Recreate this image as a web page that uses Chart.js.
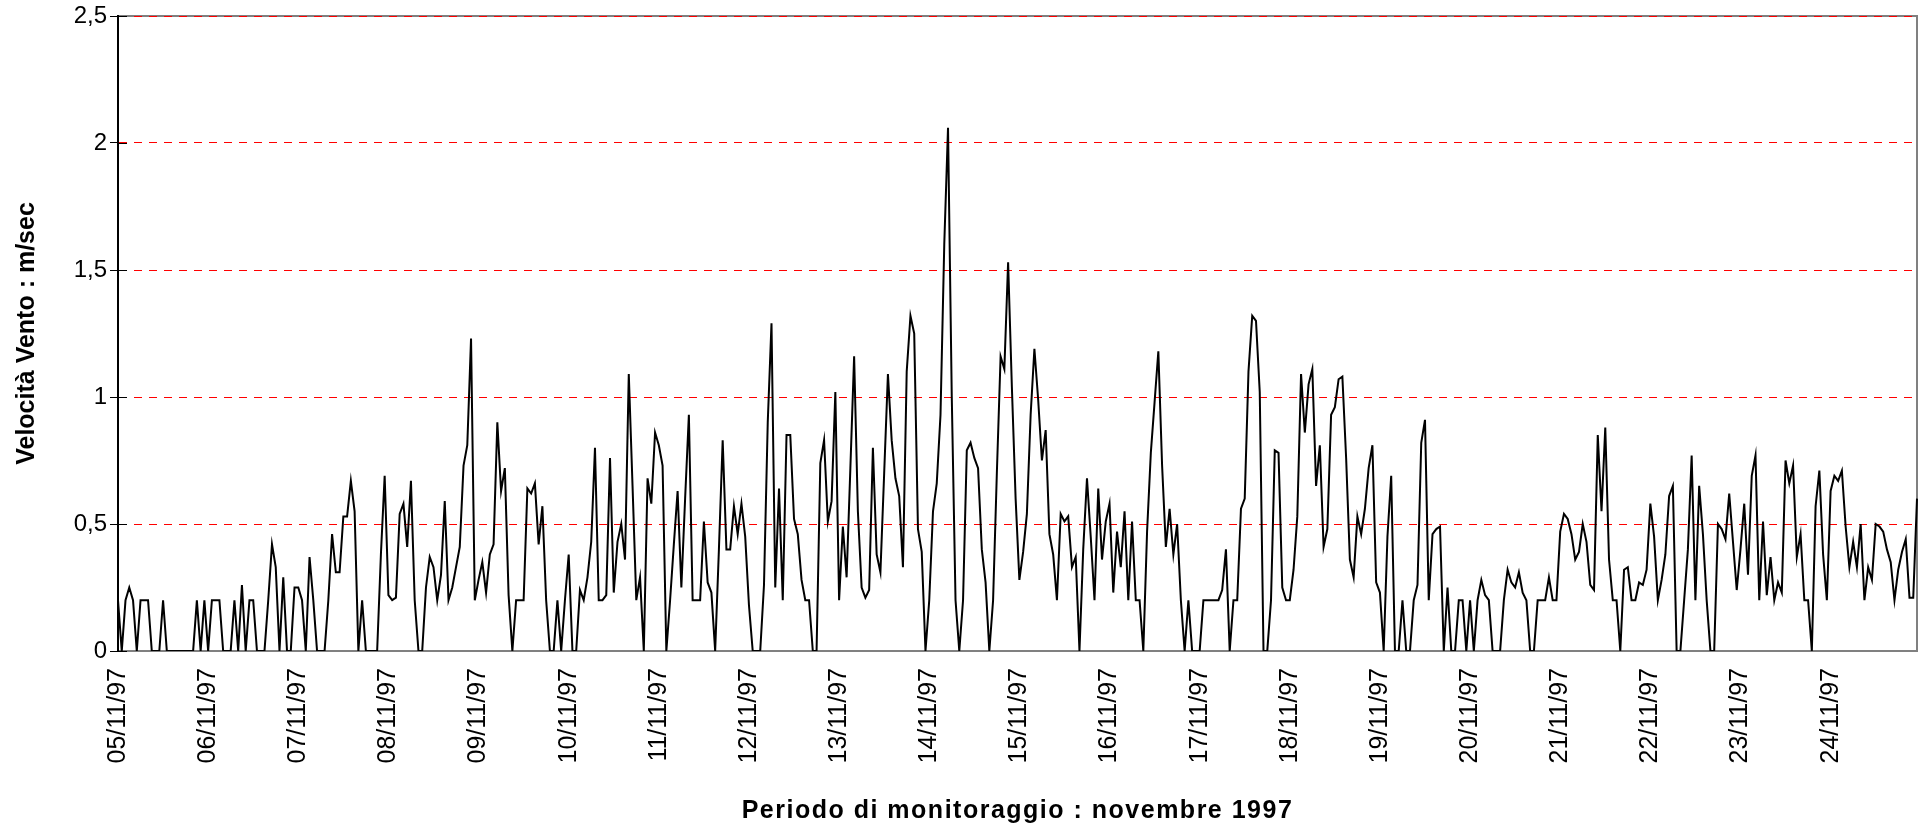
<!DOCTYPE html>
<html>
<head>
<meta charset="utf-8">
<script src="https://cdn.jsdelivr.net/npm/chart.js@4/dist/chart.umd.min.js"></script>
<style>
html,body{margin:0;padding:0;background:#fff;}
canvas{display:block;}
</style>
</head>
<body>
<canvas id="c" width="1921" height="827"></canvas>
<script>
// ---- data (hourly wind speed, 05/11/97 00h .. 24/11/97 23h) ----
const days = ['05/11/97','06/11/97','07/11/97','08/11/97','09/11/97','10/11/97','11/11/97','12/11/97','13/11/97','14/11/97',
              '15/11/97','16/11/97','17/11/97','18/11/97','19/11/97','20/11/97','21/11/97','22/11/97','23/11/97','24/11/97'];
const hoursPerDay = 24;
const yTicks = [0, 0.5, 1, 1.5, 2, 2.5];
const xTitle = 'Periodo di monitoraggio : novembre 1997';
const yTitle = 'Velocità Vento : m/sec';

const speed = [
// 05/11
0.2,0,0.2,0.25,0.2,0,0.2,0.2,0.2,0,0,0,0.2,0,0,0,0,0,0,0,0,0.2,0,0.2,
// 06/11
0,0.2,0.2,0.2,0,0,0,0.2,0,0.26,0,0.2,0.2,0,0,0,0.2,0.42,0.33,0,0.29,0,0,0.25,
// 07/11
0.25,0.2,0,0.37,0.2,0,0,0,0.2,0.46,0.31,0.31,0.53,0.53,0.67,0.55,0,0.2,0,0,0,0,0.38,0.69,
// 08/11
0.22,0.2,0.21,0.54,0.58,0.41,0.67,0.2,0,0,0.25,0.37,0.33,0.2,0.3,0.59,0.2,0.25,0.33,0.41,0.73,0.81,1.23,0.2,
// 09/11
0.28,0.35,0.23,0.38,0.42,0.9,0.63,0.72,0.22,0,0.2,0.2,0.2,0.64,0.62,0.66,0.42,0.57,0.2,0,0,0.2,0,0.2,
// 10/11
0.38,0,0,0.24,0.2,0.29,0.43,0.8,0.2,0.2,0.22,0.76,0.23,0.43,0.5,0.36,1.09,0.65,0.2,0.29,0,0.68,0.58,0.86,
// 11/11
0.81,0.73,0,0.2,0.42,0.63,0.25,0.6,0.93,0.2,0.2,0.2,0.51,0.27,0.23,0,0.4,0.83,0.4,0.4,0.57,0.46,0.58,0.45,
// 12/11
0.18,0,0,0,0.26,0.9,1.29,0.25,0.64,0.2,0.85,0.85,0.52,0.46,0.28,0.2,0.2,0,0,0.74,0.83,0.51,0.59,1.02,
// 13/11
0.2,0.49,0.29,0.72,1.16,0.55,0.25,0.21,0.24,0.8,0.38,0.31,0.7,1.09,0.83,0.68,0.61,0.33,1.1,1.32,1.25,0.48,0.39,0,
// 14/11
0.2,0.55,0.66,0.93,1.6,2.06,1.0,0.2,0,0.2,0.79,0.82,0.76,0.72,0.4,0.27,0,0.2,0.7,1.16,1.11,1.53,1.04,0.6,
// 15/11
0.28,0.39,0.54,0.93,1.19,0.99,0.75,0.87,0.46,0.38,0.2,0.54,0.51,0.53,0.33,0.37,0,0.4,0.68,0.45,0.2,0.64,0.36,0.51,
// 16/11
0.58,0.23,0.47,0.33,0.55,0.2,0.51,0.2,0.2,0,0.47,0.78,0.98,1.18,0.73,0.41,0.56,0.38,0.5,0.2,0,0.2,0,0,
// 17/11
0,0.2,0.2,0.2,0.2,0.2,0.24,0.4,0,0.2,0.2,0.56,0.6,1.1,1.32,1.3,1.02,0,0,0.2,0.79,0.78,0.25,0.2,
// 18/11
0.2,0.32,0.53,1.09,0.86,1.05,1.11,0.65,0.81,0.41,0.48,0.93,0.96,1.07,1.08,0.76,0.36,0.29,0.53,0.46,0.56,0.72,0.81,0.27,
// 19/11
0.23,0,0.45,0.69,0,0,0.2,0,0,0.2,0.26,0.82,0.91,0.2,0.46,0.48,0.49,0,0.25,0,0,0.2,0.2,0,
// 20/11
0.2,0,0.2,0.28,0.22,0.2,0,0,0,0.2,0.32,0.27,0.25,0.31,0.23,0.2,0,0,0.2,0.2,0.2,0.29,0.2,0.2,
// 21/11
0.47,0.54,0.52,0.46,0.36,0.39,0.5,0.43,0.26,0.24,0.85,0.55,0.88,0.36,0.2,0.2,0,0.32,0.33,0.2,0.2,0.27,0.26,0.32,
// 22/11
0.58,0.45,0.2,0.28,0.38,0.61,0.65,0,0,0.2,0.4,0.77,0.2,0.65,0.46,0.2,0,0,0.5,0.48,0.44,0.62,0.43,0.24,
// 23/11
0.4,0.58,0.3,0.69,0.77,0.2,0.51,0.22,0.37,0.2,0.27,0.23,0.75,0.66,0.73,0.37,0.46,0.2,0.2,0,0.57,0.71,0.38,0.2,
// 24/11
0.63,0.69,0.67,0.71,0.49,0.33,0.43,0.33,0.5,0.2,0.33,0.28,0.5,0.49,0.47,0.4,0.35,0.2,0.32,0.39,0.44,0.21,0.21,0.6
];

// category labels: one date label at the first hour of each day
const labels = speed.map((v, i) => (i % hoursPerDay === 0 ? days[i / hoursPerDay] : ''));

const FONT = '"Liberation Sans", Arial, sans-serif';

const framePlugin = {
  id: 'frame',
  beforeDraw(chart) {
    const { ctx, chartArea: a } = chart;
    ctx.save();
    ctx.strokeStyle = '#808080';
    ctx.lineWidth = 2;
    ctx.strokeRect(a.left, a.top, a.right - a.left, a.bottom - a.top);
    ctx.restore();
  },
  beforeDatasetsDraw(chart) {
    // inner half of the "cross" tick marks on the value axis
    const { ctx, chartArea: a } = chart;
    const ys = chart.scales.y;
    ctx.save();
    ctx.strokeStyle = '#000';
    ctx.lineWidth = 1;
    ys.ticks.forEach(t => {
      const py = Math.round(ys.getPixelForValue(t.value)) + 0.5;
      ctx.beginPath();
      ctx.moveTo(a.left, py);
      ctx.lineTo(a.left + 9, py);
      ctx.stroke();
    });
    ctx.restore();
  },
  afterDraw(chart) {
    const { ctx, chartArea: a } = chart;
    ctx.save();
    ctx.font = 'bold 25px ' + FONT;
    ctx.fillStyle = '#000';
    ctx.textAlign = 'center';
    ctx.textBaseline = 'middle';
    try { ctx.letterSpacing = '1.5px'; } catch (e) {}
    ctx.fillText(xTitle, (a.left + a.right) / 2, 811);
    ctx.restore();
  }
};

new Chart(document.getElementById('c'), {
  type: 'line',
  data: {
    labels: labels,
    datasets: [{
      data: speed,
      borderColor: '#000',
      borderWidth: 2,
      pointRadius: 0,
      pointHoverRadius: 0,
      tension: 0,
      fill: false
    }]
  },
  options: {
    responsive: false,
    devicePixelRatio: 1,
    animation: false,
    events: [],
    layout: { padding: { left: 0, top: 16, right: 4, bottom: 0 } },
    plugins: { legend: { display: false }, tooltip: { enabled: false }, title: { display: false } },
    scales: {
      x: {
        type: 'category',
        offset: false,
        grid: { display: false, drawTicks: false },
        border: { display: true, color: '#808080', width: 2 },
        ticks: {
          autoSkip: false,
          maxRotation: 90,
          minRotation: 90,
          padding: 17,
          color: '#000',
          font: { family: FONT, size: 25 },
          callback: function (val, idx) { return labels[idx]; }
        },
        afterFit(scale) {
          scale.height = 176;
          scale.paddingLeft = 0;
          scale.paddingRight = 0;
        }
      },
      y: {
        min: 0,
        max: 2.5,
        afterBuildTicks(scale) { scale.ticks = yTicks.map(v => ({ value: v })); },
        grid: {
          color: c => (c.tick && c.tick.value === 0 ? 'rgba(0,0,0,0)' : '#ff0000'),
          lineWidth: 1,
          tickBorderDash: [],
          tickColor: '#000',
          tickLength: 8,
          tickWidth: 1
        },
        border: { display: true, color: '#000', width: 2, dash: [8, 7] },
        ticks: {
          padding: 3,
          color: '#000',
          font: { family: FONT, size: 24 },
          callback: v => String(v).replace('.', ',')
        },
        title: {
          display: true,
          text: yTitle,
          color: '#000',
          font: { family: FONT, size: 25, weight: 'bold' },
          padding: { top: 12, bottom: 0 }
        },
        afterFit(scale) {
          scale.width = 118;
          scale.paddingTop = 0;
          scale.paddingBottom = 0;
        }
      }
    }
  },
  plugins: [framePlugin]
});
</script>
</body>
</html>
